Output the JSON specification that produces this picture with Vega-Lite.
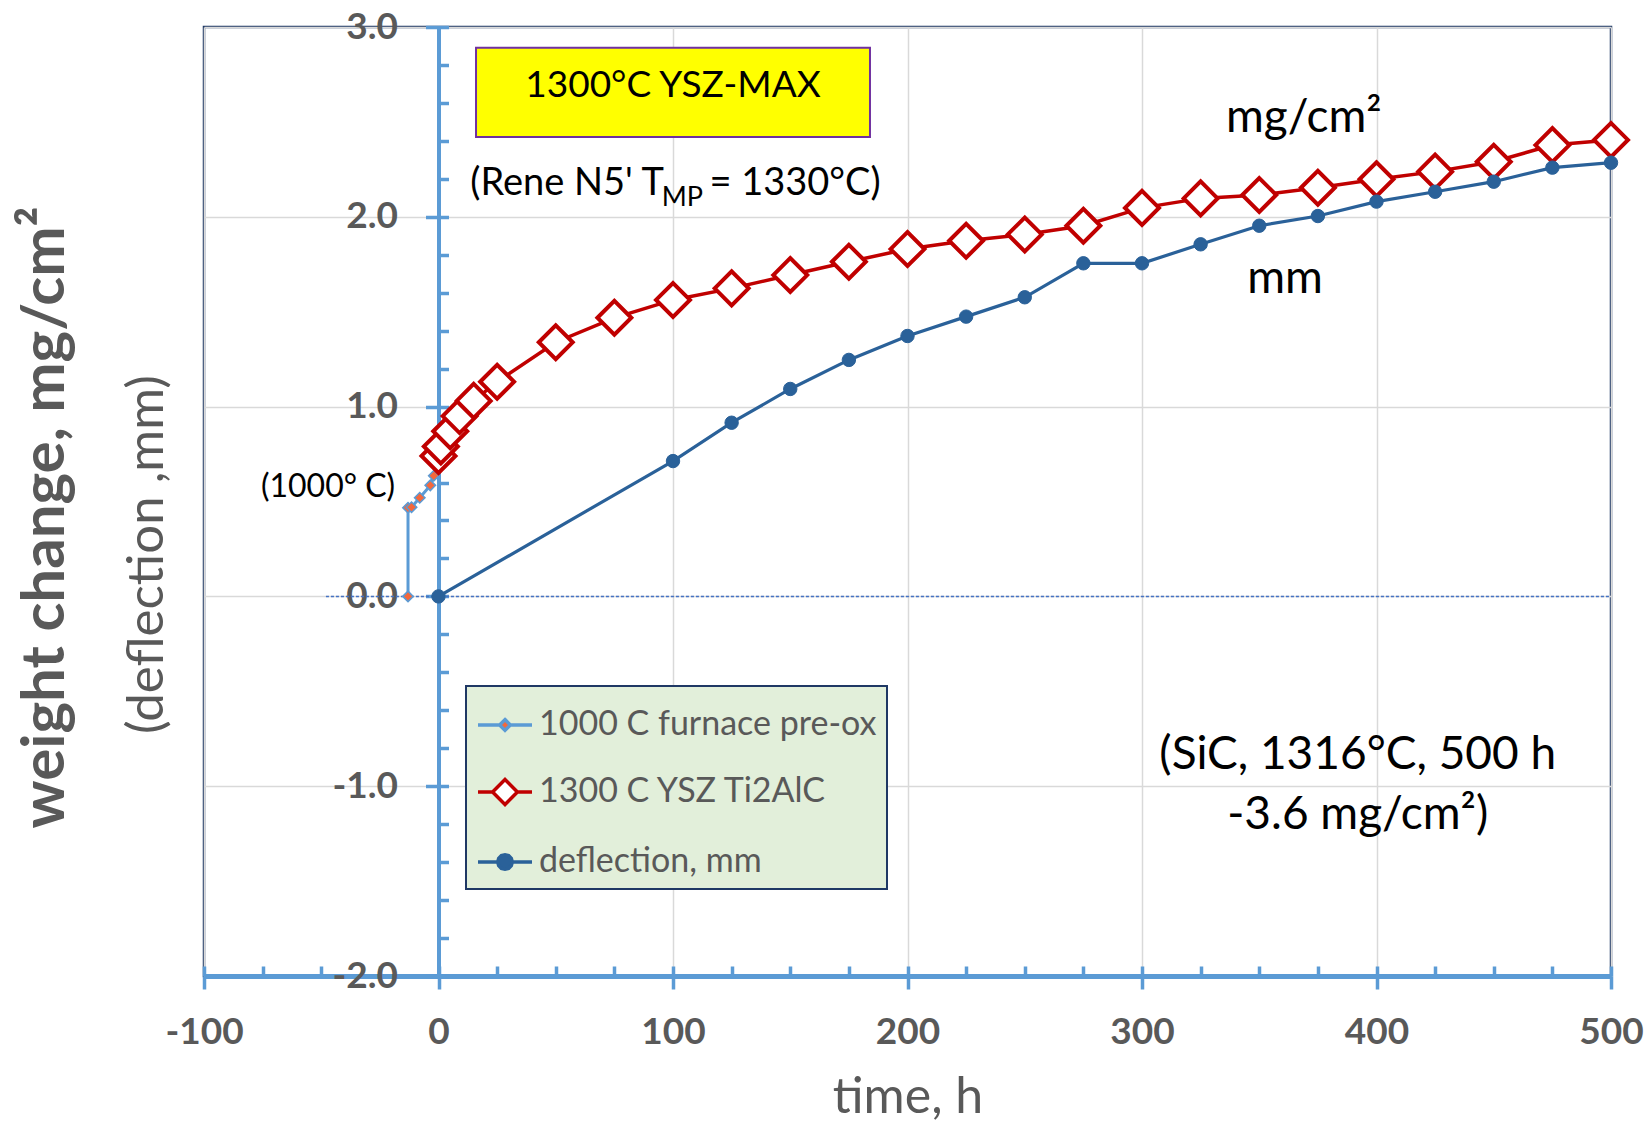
{
  "$schema": "https://vega.github.io/schema/vega-lite/v6.json",
  "width": 1407,
  "height": 949,
  "autosize": {"type": "none"},
  "padding": {"left": 204, "top": 27, "right": 37, "bottom": 146},
  "background": "white",
  "config": {
    "font": "Lato",
    "view": {"stroke": "#1f3864", "strokeWidth": 2.5},
    "legend": {"strokeWidth": 2}
  },
  "datasets": {
    "series": [
      {"series": "1000 C furnace pre-ox", "time": -13, "value": 0},
      {"series": "1000 C furnace pre-ox", "time": -13, "value": 0.467},
      {"series": "1000 C furnace pre-ox", "time": -11.5, "value": 0.47},
      {"series": "1000 C furnace pre-ox", "time": -8, "value": 0.52},
      {"series": "1000 C furnace pre-ox", "time": -3.5, "value": 0.585},
      {"series": "1000 C furnace pre-ox", "time": -2, "value": 0.636},
      {"series": "1300 C YSZ Ti2AlC", "time": 0, "value": 0.74},
      {"series": "1300 C YSZ Ti2AlC", "time": 1, "value": 0.79},
      {"series": "1300 C YSZ Ti2AlC", "time": 5, "value": 0.87},
      {"series": "1300 C YSZ Ti2AlC", "time": 9, "value": 0.95},
      {"series": "1300 C YSZ Ti2AlC", "time": 15, "value": 1.03},
      {"series": "1300 C YSZ Ti2AlC", "time": 25, "value": 1.131},
      {"series": "1300 C YSZ Ti2AlC", "time": 50, "value": 1.339},
      {"series": "1300 C YSZ Ti2AlC", "time": 75, "value": 1.468},
      {"series": "1300 C YSZ Ti2AlC", "time": 100, "value": 1.562},
      {"series": "1300 C YSZ Ti2AlC", "time": 125, "value": 1.623},
      {"series": "1300 C YSZ Ti2AlC", "time": 150, "value": 1.693},
      {"series": "1300 C YSZ Ti2AlC", "time": 175, "value": 1.763},
      {"series": "1300 C YSZ Ti2AlC", "time": 200, "value": 1.83},
      {"series": "1300 C YSZ Ti2AlC", "time": 225, "value": 1.874},
      {"series": "1300 C YSZ Ti2AlC", "time": 250, "value": 1.907},
      {"series": "1300 C YSZ Ti2AlC", "time": 275, "value": 1.953},
      {"series": "1300 C YSZ Ti2AlC", "time": 300, "value": 2.047},
      {"series": "1300 C YSZ Ti2AlC", "time": 325, "value": 2.097},
      {"series": "1300 C YSZ Ti2AlC", "time": 350, "value": 2.115},
      {"series": "1300 C YSZ Ti2AlC", "time": 375, "value": 2.153},
      {"series": "1300 C YSZ Ti2AlC", "time": 400, "value": 2.198},
      {"series": "1300 C YSZ Ti2AlC", "time": 425, "value": 2.238},
      {"series": "1300 C YSZ Ti2AlC", "time": 450, "value": 2.29},
      {"series": "1300 C YSZ Ti2AlC", "time": 475, "value": 2.378},
      {"series": "1300 C YSZ Ti2AlC", "time": 500, "value": 2.405},
      {"series": "deflection, mm", "time": 0, "value": 0},
      {"series": "deflection, mm", "time": 100, "value": 0.713},
      {"series": "deflection, mm", "time": 125, "value": 0.915},
      {"series": "deflection, mm", "time": 150, "value": 1.093},
      {"series": "deflection, mm", "time": 175, "value": 1.246},
      {"series": "deflection, mm", "time": 200, "value": 1.372},
      {"series": "deflection, mm", "time": 225, "value": 1.474},
      {"series": "deflection, mm", "time": 250, "value": 1.576},
      {"series": "deflection, mm", "time": 275, "value": 1.755},
      {"series": "deflection, mm", "time": 300, "value": 1.755},
      {"series": "deflection, mm", "time": 325, "value": 1.855},
      {"series": "deflection, mm", "time": 350, "value": 1.953},
      {"series": "deflection, mm", "time": 375, "value": 2.004},
      {"series": "deflection, mm", "time": 400, "value": 2.08},
      {"series": "deflection, mm", "time": 425, "value": 2.132},
      {"series": "deflection, mm", "time": 450, "value": 2.185},
      {"series": "deflection, mm", "time": 475, "value": 2.259},
      {"series": "deflection, mm", "time": 500, "value": 2.285}
    ],
    "zero": [
      {"time": -48, "value": 0},
      {"time": 500, "value": 0}
    ],
    "box": [
      {"t1": 16, "t2": 184, "v1": 2.891, "v2": 2.42}
    ],
    "notes": [
      {"kind": "box", "time": 100, "value": 2.631, "label": "1300°C YSZ-MAX"},
      {"kind": "rene1", "time": 104, "value": 2.115, "label": "(Rene N5' T"},
      {"kind": "rene2", "time": 104, "value": 2.115, "label": "MP"},
      {"kind": "rene3", "time": 104, "value": 2.115, "label": "= 1330°C)"},
      {"kind": "big", "time": 369, "value": 2.445, "label": "mg/cm²"},
      {"kind": "big", "time": 361, "value": 1.6, "label": "mm"},
      {"kind": "big", "time": 392, "value": -0.91, "label": "(SiC, 1316°C, 500 h"},
      {"kind": "big", "time": 392, "value": -1.225, "label": "-3.6 mg/cm²)"},
      {"kind": "pre", "time": -18.5, "value": 0.524, "label": "(1000° C)"}
    ]
  },
  "layer": [
    {
      "data": {"name": "zero"},
      "mark": {"type": "line", "color": "#4472c4", "strokeWidth": 1.5, "strokeDash": [3, 2]},
      "encoding": {
        "x": {
          "field": "time", "type": "quantitative",
          "scale": {"domain": [-100, 500], "nice": false, "zero": false},
          "axis": {
            "orient": "bottom",
            "values": [-100, -75, -50, -25, 0, 25, 50, 75, 100, 125, 150, 175, 200, 225, 250, 275, 300, 325, 350, 375, 400, 425, 450, 475, 500],
            "labels": false, "domain": false, "grid": false,
            "tickSize": -10, "tickColor": "#5b9bd5", "tickWidth": 3.5,
            "title": null
          }
        },
        "y": {
          "field": "value", "type": "quantitative",
          "scale": {"domain": [-2, 3], "nice": false, "zero": false},
          "axis": {
            "orient": "left", "offset": -234.5,
            "values": [-2, -1.8, -1.6, -1.4, -1.2, -1, -0.8, -0.6, -0.4, -0.2, 0, 0.2, 0.4, 0.6, 0.8, 1, 1.2, 1.4, 1.6, 1.8, 2, 2.2, 2.4, 2.6, 2.8, 3],
            "labels": false, "domain": false, "grid": false,
            "tickSize": -10, "tickColor": "#5b9bd5", "tickWidth": 3.5,
            "title": "(deflection ,mm)",
            "titleFont": "Lato", "titleFontSize": 51, "titleFontWeight": "normal", "titleColor": "#595959",
            "titleAngle": -90, "titleAlign": "center", "titleBaseline": "middle",
            "titleX": -291.5, "titleY": 527
          }
        }
      }
    },
    {
      "data": {"name": "series"},
      "transform": [{"filter": "datum.series === '1000 C furnace pre-ox'"}],
      "mark": {"type": "line", "color": "#5b9bd5", "strokeWidth": 3},
      "encoding": {
        "x": {
          "field": "time", "type": "quantitative",
          "scale": {"domain": [-100, 500], "nice": false, "zero": false},
          "axis": {
            "orient": "bottom",
            "values": [-100, 0, 100, 200, 300, 400, 500],
            "labelExpr": "replace(format(datum.value, 'd'), '−', '-')",
            "labelFont": "Lato", "labelFontSize": 37, "labelFontWeight": "bold", "labelColor": "#595959",
            "labelBaseline": "alphabetic", "labelPadding": 54, "labelFlush": false, "labelOverlap": false,
            "tickSize": 13, "tickColor": "#5b9bd5", "tickWidth": 3.5,
            "domainColor": "#5b9bd5", "domainWidth": 5,
            "grid": true, "gridColor": "#d9d9d9", "gridWidth": 1.5,
            "title": "time, h",
            "titleFont": "Lato", "titleFontSize": 50, "titleFontWeight": "normal", "titleColor": "#595959",
            "titleBaseline": "alphabetic", "titleY": 136
          }
        },
        "y": {
          "field": "value", "type": "quantitative",
          "scale": {"domain": [-2, 3], "nice": false, "zero": false},
          "axis": {
            "orient": "left", "offset": -234.5,
            "values": [-2, -1, 0, 1, 2, 3],
            "labelExpr": "replace(format(datum.value, '.1f'), '−', '-')",
            "labelFont": "Lato", "labelFontSize": 37, "labelFontWeight": "bold", "labelColor": "#595959",
            "labelPadding": 28, "labelFlush": false, "labelOverlap": false,
            "tickSize": 13, "tickColor": "#5b9bd5", "tickWidth": 3.5,
            "domainColor": "#5b9bd5", "domainWidth": 4,
            "grid": true, "gridColor": "#d9d9d9", "gridWidth": 1.5,
            "title": "weight change, mg/cm²",
            "titleFont": "Lato", "titleFontSize": 60, "titleFontWeight": "bold", "titleColor": "#595959",
            "titleAngle": -90, "titleAlign": "center", "titleBaseline": "middle",
            "titleX": -393, "titleY": 490
          }
        }
      }
    },
    {
      "data": {"name": "series"},
      "transform": [{"filter": "datum.series === '1300 C YSZ Ti2AlC'"}],
      "mark": {"type": "line", "color": "#c00000", "strokeWidth": 3.5},
      "encoding": {
        "x": {"field": "time", "type": "quantitative", "scale": {"domain": [-100, 500], "nice": false, "zero": false}, "axis": null},
        "y": {"field": "value", "type": "quantitative", "scale": {"domain": [-2, 3], "nice": false, "zero": false}, "axis": null}
      }
    },
    {
      "data": {"name": "series"},
      "transform": [{"filter": "datum.series === 'deflection, mm'"}],
      "mark": {"type": "line", "color": "#2a6199", "strokeWidth": 3.2},
      "encoding": {
        "x": {"field": "time", "type": "quantitative", "scale": {"domain": [-100, 500], "nice": false, "zero": false}, "axis": null},
        "y": {"field": "value", "type": "quantitative", "scale": {"domain": [-2, 3], "nice": false, "zero": false}, "axis": null}
      }
    },
    {
      "data": {"name": "series"},
      "transform": [{"filter": "datum.series === '1000 C furnace pre-ox'"}],
      "mark": {"type": "point", "shape": "diamond", "filled": true, "fill": "#f4683c", "stroke": "#5b9bd5", "strokeWidth": 1.5, "size": 110, "opacity": 1},
      "encoding": {
        "x": {"field": "time", "type": "quantitative", "scale": {"domain": [-100, 500], "nice": false, "zero": false}, "axis": null},
        "y": {"field": "value", "type": "quantitative", "scale": {"domain": [-2, 3], "nice": false, "zero": false}, "axis": null}
      }
    },
    {
      "data": {"name": "series"},
      "transform": [{"filter": "datum.series === '1300 C YSZ Ti2AlC'"}],
      "mark": {"type": "point", "shape": "diamond", "filled": true, "fill": "#ffffff", "stroke": "#c00000", "strokeWidth": 4, "size": 1150, "opacity": 1},
      "encoding": {
        "x": {"field": "time", "type": "quantitative", "scale": {"domain": [-100, 500], "nice": false, "zero": false}, "axis": null},
        "y": {"field": "value", "type": "quantitative", "scale": {"domain": [-2, 3], "nice": false, "zero": false}, "axis": null}
      }
    },
    {
      "data": {"name": "series"},
      "transform": [{"filter": "datum.series === 'deflection, mm'"}],
      "mark": {"type": "point", "shape": "circle", "filled": true, "fill": "#2a6199", "stroke": "#2a6199", "strokeWidth": 1, "size": 180, "opacity": 1},
      "encoding": {
        "x": {"field": "time", "type": "quantitative", "scale": {"domain": [-100, 500], "nice": false, "zero": false}, "axis": null},
        "y": {"field": "value", "type": "quantitative", "scale": {"domain": [-2, 3], "nice": false, "zero": false}, "axis": null}
      }
    },
    {
      "data": {"name": "series"},
      "mark": {"type": "point", "filled": true, "size": 0, "opacity": 1},
      "encoding": {
        "x": {"field": "time", "type": "quantitative", "scale": {"domain": [-100, 500], "nice": false, "zero": false}, "axis": null},
        "y": {"field": "value", "type": "quantitative", "scale": {"domain": [-2, 3], "nice": false, "zero": false}, "axis": null},
        "shape": {
          "field": "series", "type": "nominal",
          "scale": {
            "domain": ["1000 C furnace pre-ox", "1300 C YSZ Ti2AlC", "deflection, mm"],
            "range": [
              "M-1,0H-0.2M0.2,0H1M0,-0.2L0.2,0L0,0.2L-0.2,0Z",
              "M-1,0H-0.46M0.46,0H1M0,-0.46L0.46,0L0,0.46L-0.46,0Z",
              "M-1,0H-0.27M0.27,0H1M0.27,0L0.234,0.135L0.135,0.234L0,0.27L-0.135,0.234L-0.234,0.135L-0.27,0L-0.234,-0.135L-0.135,-0.234L0,-0.27L0.135,-0.234L0.234,-0.135Z"
            ]
          },
          "legend": {
            "title": null,
            "orient": "none", "legendX": 262, "legendY": 659,
            "fillColor": "#e2efda", "strokeColor": "#1f3864",
            "padding": 10,
            "symbolSize": 2916, "symbolStrokeWidth": 3.5,
            "labelFont": "Lato", "labelFontSize": 34, "labelColor": "#595959", "labelLimit": 600, "labelOffset": 5,
            "rowPadding": 21
          }
        },
        "fill": {
          "field": "series", "type": "nominal",
          "scale": {
            "domain": ["1000 C furnace pre-ox", "1300 C YSZ Ti2AlC", "deflection, mm"],
            "range": ["#f4683c", "#ffffff", "#2a6199"]
          },
          "legend": {
            "title": null,
            "orient": "none", "legendX": 262, "legendY": 659,
            "fillColor": "#e2efda", "strokeColor": "#1f3864",
            "padding": 10,
            "symbolSize": 2916, "symbolStrokeWidth": 3.5,
            "labelFont": "Lato", "labelFontSize": 34, "labelColor": "#595959", "labelLimit": 600, "labelOffset": 5,
            "rowPadding": 21
          }
        },
        "stroke": {
          "field": "series", "type": "nominal",
          "scale": {
            "domain": ["1000 C furnace pre-ox", "1300 C YSZ Ti2AlC", "deflection, mm"],
            "range": ["#5b9bd5", "#c00000", "#2a6199"]
          },
          "legend": {
            "title": null,
            "orient": "none", "legendX": 262, "legendY": 659,
            "fillColor": "#e2efda", "strokeColor": "#1f3864",
            "padding": 10,
            "symbolSize": 2916, "symbolStrokeWidth": 3.5,
            "labelFont": "Lato", "labelFontSize": 34, "labelColor": "#595959", "labelLimit": 600, "labelOffset": 5,
            "rowPadding": 21
          }
        }
      }
    },
    {
      "data": {"name": "box"},
      "mark": {"type": "rect", "fill": "#ffff00", "stroke": "#7030a0", "strokeWidth": 2},
      "encoding": {
        "x": {"field": "t1", "type": "quantitative", "scale": {"domain": [-100, 500], "nice": false, "zero": false}, "axis": null},
        "x2": {"field": "t2"},
        "y": {"field": "v1", "type": "quantitative", "scale": {"domain": [-2, 3], "nice": false, "zero": false}, "axis": null},
        "y2": {"field": "v2"}
      }
    },
    {
      "data": {"name": "notes"},
      "transform": [{"filter": "datum.kind === 'box'"}],
      "mark": {"type": "text", "font": "Lato", "fontSize": 37, "color": "#000000", "align": "center", "baseline": "alphabetic"},
      "encoding": {
        "x": {"field": "time", "type": "quantitative", "scale": {"domain": [-100, 500], "nice": false, "zero": false}, "axis": null},
        "y": {"field": "value", "type": "quantitative", "scale": {"domain": [-2, 3], "nice": false, "zero": false}, "axis": null},
        "text": {"field": "label"}
      }
    },
    {
      "data": {"name": "notes"},
      "transform": [{"filter": "datum.kind === 'rene1'"}],
      "mark": {"type": "text", "font": "Lato", "fontSize": 38, "color": "#000000", "align": "right", "baseline": "alphabetic", "dx": -18.5},
      "encoding": {
        "x": {"field": "time", "type": "quantitative", "scale": {"domain": [-100, 500], "nice": false, "zero": false}, "axis": null},
        "y": {"field": "value", "type": "quantitative", "scale": {"domain": [-2, 3], "nice": false, "zero": false}, "axis": null},
        "text": {"field": "label"}
      }
    },
    {
      "data": {"name": "notes"},
      "transform": [{"filter": "datum.kind === 'rene2'"}],
      "mark": {"type": "text", "font": "Lato", "fontSize": 27, "color": "#000000", "align": "center", "baseline": "alphabetic", "dy": 11},
      "encoding": {
        "x": {"field": "time", "type": "quantitative", "scale": {"domain": [-100, 500], "nice": false, "zero": false}, "axis": null},
        "y": {"field": "value", "type": "quantitative", "scale": {"domain": [-2, 3], "nice": false, "zero": false}, "axis": null},
        "text": {"field": "label"}
      }
    },
    {
      "data": {"name": "notes"},
      "transform": [{"filter": "datum.kind === 'rene3'"}],
      "mark": {"type": "text", "font": "Lato", "fontSize": 38, "color": "#000000", "align": "left", "baseline": "alphabetic", "dx": 27},
      "encoding": {
        "x": {"field": "time", "type": "quantitative", "scale": {"domain": [-100, 500], "nice": false, "zero": false}, "axis": null},
        "y": {"field": "value", "type": "quantitative", "scale": {"domain": [-2, 3], "nice": false, "zero": false}, "axis": null},
        "text": {"field": "label"}
      }
    },
    {
      "data": {"name": "notes"},
      "transform": [{"filter": "datum.kind === 'big'"}],
      "mark": {"type": "text", "font": "Lato", "fontSize": 46, "color": "#000000", "align": "center", "baseline": "alphabetic"},
      "encoding": {
        "x": {"field": "time", "type": "quantitative", "scale": {"domain": [-100, 500], "nice": false, "zero": false}, "axis": null},
        "y": {"field": "value", "type": "quantitative", "scale": {"domain": [-2, 3], "nice": false, "zero": false}, "axis": null},
        "text": {"field": "label"}
      }
    },
    {
      "data": {"name": "notes"},
      "transform": [{"filter": "datum.kind === 'pre'"}],
      "mark": {"type": "text", "font": "Lato", "fontSize": 32, "color": "#000000", "align": "right", "baseline": "alphabetic"},
      "encoding": {
        "x": {"field": "time", "type": "quantitative", "scale": {"domain": [-100, 500], "nice": false, "zero": false}, "axis": null},
        "y": {"field": "value", "type": "quantitative", "scale": {"domain": [-2, 3], "nice": false, "zero": false}, "axis": null},
        "text": {"field": "label"}
      }
    }
  ],
  "resolve": {"axis": {"x": "independent", "y": "independent"}}
}
